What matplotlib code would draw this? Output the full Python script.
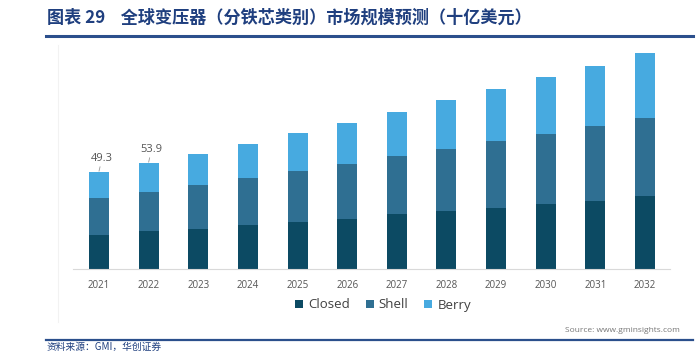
import matplotlib
matplotlib.use("Agg")
import matplotlib.pyplot as plt
import numpy as np

years = ["2021", "2022", "2023", "2024", "2025", "2026", "2027", "2028", "2029", "2030", "2031", "2032"]
closed = [17.3, 19.2, 20.4, 22.4, 24.1, 25.7, 27.9, 29.6, 31.1, 33.0, 34.8, 37.0]
shell = [19.1, 20.2, 22.4, 24.1, 25.9, 28.0, 29.6, 31.8, 34.0, 35.9, 38.1, 40.0]
berry = [12.9, 14.5, 16.1, 17.5, 19.5, 20.6, 22.8, 24.6, 26.7, 28.9, 30.9, 33.2]
labels = {0: "49.3", 1: "53.9"}

c_closed = "#0c4a63"
c_shell = "#2f6f92"
c_berry = "#47aae0"

W, H = 699, 352
fig = plt.figure(figsize=(W / 100, H / 100), dpi=100)
fig.patch.set_facecolor("white")

cjk = ["Noto Sans CJK SC", "DejaVu Sans"]

# title
fig.text(47 / W, 1 - 18 / H, "图表 29    全球变压器（分铁芯类别）市场规模预测（十亿美元）",
         family=cjk, fontsize=12.3, fontweight="bold", color="#1f3f7f", va="center", ha="left")
fig.add_artist(plt.Line2D([46 / W, 693 / W], [1 - 36 / H, 1 - 36 / H], color="#2b4f8c", lw=2.2))
fig.add_artist(plt.Line2D([46 / W, 693 / W], [1 - 340 / H, 1 - 340 / H], color="#2b4f8c", lw=1.6))
fig.text(47 / W, 1 - 346.5 / H, "资料来源：GMI，华创证券", family=cjk, fontsize=7,
         color="#1f3f7f", va="center", ha="left")

# faint chart frame
fig.add_artist(plt.Line2D([58 / W, 58 / W], [1 - 45 / H, 1 - 322 / H], color="#f2f2f2", lw=0.8))

# axes
x0, x1 = 73, 670
base = 269
ytop = 45
pxu = 1.96
ax = fig.add_axes([x0 / W, 1 - base / H, (x1 - x0) / W, (base - ytop) / H])
x = np.arange(len(years))
step = (645 - 99) / 11
ax.set_xlim(-(99 - x0) / step, 11 + (x1 - 645) / step)
ax.set_ylim(0, (base - ytop) / pxu)

bw = 20 / step
b1 = ax.bar(x, closed, width=bw, color=c_closed, label="Closed")
b2 = ax.bar(x, shell, width=bw, bottom=closed, color=c_shell, label="Shell")
bot2 = np.array(closed) + np.array(shell)
b3 = ax.bar(x, berry, width=bw, bottom=bot2, color=c_berry, label="Berry")

tot = bot2 + np.array(berry)
for i, t in labels.items():
    ax.annotate(t, xy=(x[i], tot[i] + 0.6), xytext=(x[i] + 0.06, tot[i] + 4.3),
                ha="center", va="bottom", fontsize=8, color="#555555", family="Open Sans",
                arrowprops=dict(arrowstyle="-", color="#999999", lw=0.6, shrinkA=0, shrinkB=0))

for s in ["top", "right", "left"]:
    ax.spines[s].set_visible(False)
ax.spines["bottom"].set_color("#d9d9d9")
ax.spines["bottom"].set_linewidth(0.8)
ax.set_yticks([])
ax.set_xticks(x)
ax.set_xticklabels(years, fontsize=7, color="#555555", family="Open Sans")
ax.tick_params(axis="x", length=0, pad=8)
ax.patch.set_alpha(0)

fig.legend(handles=[b1, b2, b3], labels=["Closed", "Shell", "Berry"],
           loc="center", bbox_to_anchor=(383 / W, 1 - 305 / H), ncol=3, frameon=False,
           prop={"family": "Open Sans", "size": 9.5}, handlelength=0.6, handleheight=0.6,
           handletextpad=0.4, columnspacing=1.2, labelcolor="#404040")

fig.text(680 / W, 1 - 330 / H, "Source: www.gminsights.com", fontsize=6, color="#777777",
         family="Open Sans", ha="right", va="center")

fig.savefig("out.png", dpi=100)
